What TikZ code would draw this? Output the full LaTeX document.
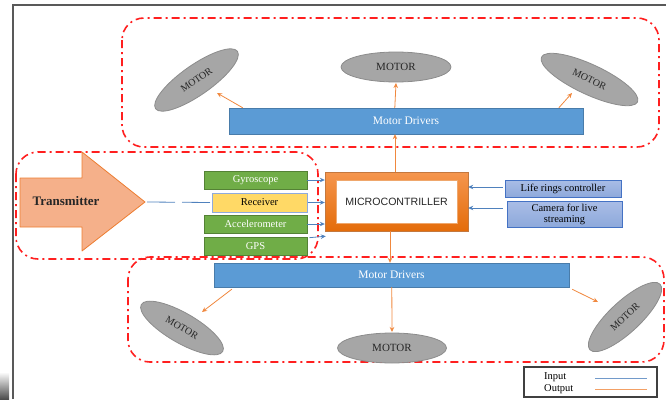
\documentclass[tikz,border=0pt]{standalone}
\usepackage{fontspec}
\setmainfont{Liberation Serif}
\setsansfont{Liberation Sans}
\usetikzlibrary{shapes.geometric,arrows.meta,calc}
\definecolor{dashred}{HTML}{FF1F1F}
\definecolor{barblue}{HTML}{5B9BD5}
\definecolor{sgreen}{HTML}{70AD47}
\definecolor{sgreenb}{HTML}{548235}
\definecolor{syellow}{HTML}{FFD966}
\definecolor{syellowb}{HTML}{8FAADC}
\definecolor{motorfill}{HTML}{A6A6A6}
\definecolor{motorline}{HTML}{8C8C8C}
\definecolor{outorange}{HTML}{F0883E}
\definecolor{inblue}{HTML}{4F81BD}
\definecolor{mctop}{HTML}{F5964E}
\definecolor{mcbot}{HTML}{E46C0A}
\definecolor{txfill}{HTML}{F5B08A}
\definecolor{txline}{HTML}{ED7D31}
\definecolor{sidetop}{HTML}{A9BDE6}
\definecolor{sidebot}{HTML}{8EA9DB}
\definecolor{sideline}{HTML}{4472C4}
\tikzset{
  groupbox/.style={draw=dashred, line width=1.6pt, rounded corners=22pt,
    dash pattern=on 8pt off 4pt on 2pt off 4pt},
  barbox/.style={rectangle, fill=barblue, draw=barblue!80!black, line width=0.4pt,
    text=white, font=\fontsize{11.5}{13}\selectfont, inner sep=0pt},
  motornode/.style={ellipse, fill=motorfill, draw=motorline, line width=0.8pt,
    inner sep=0pt, text=black!85, font=\fontsize{10}{12}\selectfont},
  sensorbox/.style={rectangle, fill=sgreen, draw=sgreenb, line width=0.6pt,
    text=white, font=\fontsize{10.5}{12}\selectfont, inner sep=0pt,
    minimum width=103pt, minimum height=18pt},
  sidebox/.style={rectangle, top color=sidetop, bottom color=sidebot, draw=sideline, line width=0.6pt,
    text=black, font=\fontsize{10.5}{11}\selectfont, inner sep=0pt, align=center},
  oarr/.style={draw=outorange, line width=0.8pt, -{Stealth[length=5pt,width=4.5pt]}},
  iarr/.style={draw=inblue, line width=0.8pt, -{Stealth[length=5pt,width=4.5pt]}},
}
\begin{document}
\begin{tikzpicture}[x=1pt,y=-1pt]
\useasboundingbox (0,0) rectangle (666,399);
% outer frame
\draw[black!65, line width=1.3pt] (13,399) -- (13,5) -- (666,5);
\shade[top color=white, bottom color=black!70] (0,372) rectangle (9,399);

% group boxes
\draw[groupbox] (122,18) rectangle (659,147);
\draw[groupbox] (16,152) rectangle (318,259);
\draw[groupbox] (128,257) rectangle (664,362);

% top section
\node[barbox, minimum width=354pt, minimum height=26pt] (md1) at (406,121) {Motor Drivers};
\node[motornode, minimum width=100pt, minimum height=30pt, rotate=35] (m1) at (196.5,80) {MOTOR};
\node[motornode, minimum width=110pt, minimum height=30pt, font=\fontsize{11}{12}\selectfont] (m2) at (396,67) {MOTOR};
\node[motornode, minimum width=106pt, minimum height=30pt, rotate=-25] (m3) at (589.5,79.5) {MOTOR};
\coordinate (m1in) at (217,93);
\coordinate (m2in) at (396,83);
\coordinate (m3in) at (572,93);
\draw[oarr] ($(md1.north west)+(14,0)$) -- (m1in);
\draw[oarr] ($(md1.north west)+(166,0)$) -- (m2in);
\draw[oarr] ($(md1.north west)+(330,0)$) -- (m3in);

% transmitter
\fill[txfill] (20,178) -- (82,178) -- (82,152) -- (145,202) -- (82,251) -- (82,227) -- (20,227) -- cycle;
\draw[txline, line width=0.8pt, line join=round] (20,178) -- (82,178) -- (82,152) -- (145,202) -- (82,251) -- (82,227) -- (20,227) -- cycle;
\node[font=\fontsize{13}{14}\selectfont\bfseries, text=black!85] (tx) at (66,201) {Transmitter};
\coordinate (txtip) at (147,202);

% sensors
\node[sensorbox] (gyro) at (255.5,180) {Gyroscope};
\node[sensorbox, fill=syellow, draw=syellowb, line width=1pt, text=black, minimum width=95pt, minimum height=19pt] (rec) at (259.5,202.5) {Receiver};
\node[sensorbox] (acc) at (255.5,224) {Accelerometer};
\node[sensorbox] (gps) at (255.5,246) {GPS};

% microcontroller
\node[rectangle, top color=mctop, bottom color=mcbot, draw=mctop!80!black, line width=0.4pt,
  minimum width=143pt, minimum height=59pt, inner sep=0pt] (mc) at (396.5,201.5) {};
\node[rectangle, fill=white, draw=mcbot!60, line width=0.3pt, minimum width=121pt, minimum height=43pt,
  inner sep=0pt, font=\sffamily\fontsize{10.6}{12}\selectfont, text=black!85] (mcin) at (396.5,201.5) {MICROCONTRILLER};

% side inputs
\node[sidebox, minimum width=116pt, minimum height=17pt] (life) at (563,188.5) {Life rings controller};
\node[sidebox, minimum width=115pt, minimum height=26pt] (cam) at (564.5,214) {Camera for live\\streaming};

% input connectors
\draw[draw=inblue, line width=0.8pt, dash pattern=on 28pt off 7pt] (txtip) -- (rec.west);
\draw[iarr] (gyro.east) -- (gyro.east -| mc.west);
\draw[iarr] (rec.east) -- (rec.east -| mc.west);
\draw[iarr] (acc.east) -- (acc.east -| mc.west);
\draw[iarr] ([xshift=2pt,yshift=-1pt]gps.north east) -- ([xshift=1pt,yshift=-5pt]mc.south west);
\draw[iarr] ([xshift=-2pt,yshift=1.5pt]life.west) -- ([yshift=1.5pt]life.west -| mc.east);
\draw[iarr] ([xshift=-4pt,yshift=6pt]cam.west) -- ([yshift=6pt]cam.west -| mc.east);

% to motor drivers
\draw[oarr] ([xshift=-1.5pt]mc.north) -- ([xshift=-1.5pt]mc.north |- md1.south);

% bottom section
\node[barbox, minimum width=355pt, minimum height=24pt] (md2) at (391.5,275) {Motor Drivers};
\draw[oarr] ([xshift=-6.5pt]mc.south) -- ([xshift=-6.5pt]mc.south |- md2.north);
\node[motornode, minimum width=94pt, minimum height=30pt, rotate=-30] (m4) at (182,328) {MOTOR};
\node[motornode, minimum width=109pt, minimum height=30pt, font=\fontsize{11}{12}\selectfont] (m5) at (392,348) {MOTOR};
\node[motornode, minimum width=96pt, minimum height=31pt, rotate=43] (m6) at (625,317) {MOTOR};
\coordinate (m4in) at (202,312);
\coordinate (m5in) at (392,332);
\coordinate (m6in) at (598,302);
\draw[oarr] ($(md2.south west)+(18,2)$) -- (m4in);
\draw[oarr] ($(md2.south west)+(178,0)$) -- (m5in);
\draw[oarr] ($(md2.south east)+(3,2)$) -- (m6in);

% legend
\node[draw=black!75, line width=1.2pt, minimum width=133pt, minimum height=30pt, inner sep=0pt] (legend) at (590.5,382) {};
\node[anchor=west, font=\fontsize{10.5}{12}\selectfont, inner sep=0pt] (lin) at (544,377.5) {Input};
\node[anchor=west, font=\fontsize{10.5}{12}\selectfont, inner sep=0pt] (lout) at (544,389) {Output};
\coordinate (lin1) at (595,378);
\coordinate (lin2) at (647,378);
\coordinate (lout1) at (595,389);
\coordinate (lout2) at (647,389);
\draw[inblue!80, line width=0.6pt] (lin1) -- (lin2);
\draw[outorange!80, line width=0.6pt] (lout1) -- (lout2);
\end{tikzpicture}
\end{document}
